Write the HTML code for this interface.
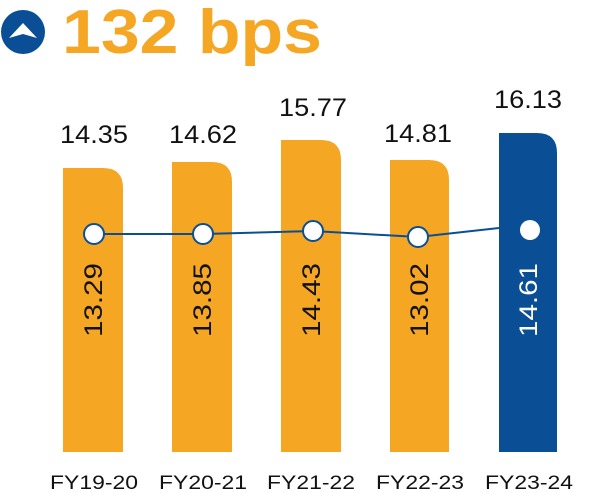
<!DOCTYPE html>
<html><head><style>
html,body{margin:0;padding:0;background:#fff;}
svg{display:block;}
</style></head><body>
<svg width="604" height="493" viewBox="0 0 604 493" xmlns="http://www.w3.org/2000/svg" font-family="Liberation Sans, sans-serif">
<circle cx="23" cy="32" r="22" fill="#0a4f96"/>
<path d="M9 38 L23 23 L37 38 L23 34 Z" fill="#fff"/>
<text x="62" y="53" font-size="62" font-weight="bold" fill="#f5a623" textLength="260" lengthAdjust="spacingAndGlyphs">132 bps</text>
<g fill="#f5a623">
<path d="M63 452 V168 H103 Q123 168 123 188 V452 Z"/>
<path d="M172 452 V162 H212 Q232 162 232 182 V452 Z"/>
<path d="M281 452 V140 H321 Q341 140 341 160 V452 Z"/>
<path d="M390 452 V160 H429 Q449 160 449 180 V452 Z"/>
</g>
<path d="M499 452 V133 H537 Q557 133 557 153 V452 Z" fill="#0a4f96"/>
<polyline points="94,234 203,234 313,231 418,237 499,228" fill="none" stroke="#0a4f96" stroke-width="2"/>
<g fill="#fff" stroke="#0a4f96" stroke-width="2">
<circle cx="94" cy="234" r="10"/><circle cx="203" cy="234" r="10"/><circle cx="313" cy="231" r="10"/><circle cx="418" cy="237" r="10"/>
</g>
<circle cx="530" cy="230" r="10" fill="#fff"/>
<g font-size="25" fill="#111" text-anchor="middle" lengthAdjust="spacingAndGlyphs">
<text x="94" y="143" textLength="68" lengthAdjust="spacingAndGlyphs">14.35</text><text x="203" y="143" textLength="68" lengthAdjust="spacingAndGlyphs">14.62</text><text x="313" y="116" textLength="68" lengthAdjust="spacingAndGlyphs">15.77</text><text x="418" y="142" textLength="68" lengthAdjust="spacingAndGlyphs">14.81</text><text x="528" y="108" textLength="68" lengthAdjust="spacingAndGlyphs">16.13</text>
</g>
<g font-size="25" text-anchor="middle">
<text transform="translate(102,300) rotate(-90)" fill="#111" textLength="74" lengthAdjust="spacingAndGlyphs">13.29</text>
<text transform="translate(211,300) rotate(-90)" fill="#111" textLength="74" lengthAdjust="spacingAndGlyphs">13.85</text>
<text transform="translate(320,300) rotate(-90)" fill="#111" textLength="74" lengthAdjust="spacingAndGlyphs">14.43</text>
<text transform="translate(428,300) rotate(-90)" fill="#111" textLength="74" lengthAdjust="spacingAndGlyphs">13.02</text>
<text transform="translate(537,300) rotate(-90)" fill="#fff" textLength="74" lengthAdjust="spacingAndGlyphs">14.61</text>
</g>
<g font-size="19" fill="#111" text-anchor="middle">
<text x="94" y="489" textLength="88" lengthAdjust="spacingAndGlyphs">FY19-20</text><text x="203" y="489" textLength="88" lengthAdjust="spacingAndGlyphs">FY20-21</text><text x="311" y="489" textLength="88" lengthAdjust="spacingAndGlyphs">FY21-22</text><text x="420" y="489" textLength="88" lengthAdjust="spacingAndGlyphs">FY22-23</text><text x="529" y="489" textLength="88" lengthAdjust="spacingAndGlyphs">FY23-24</text>
</g>
</svg>
</body></html>
